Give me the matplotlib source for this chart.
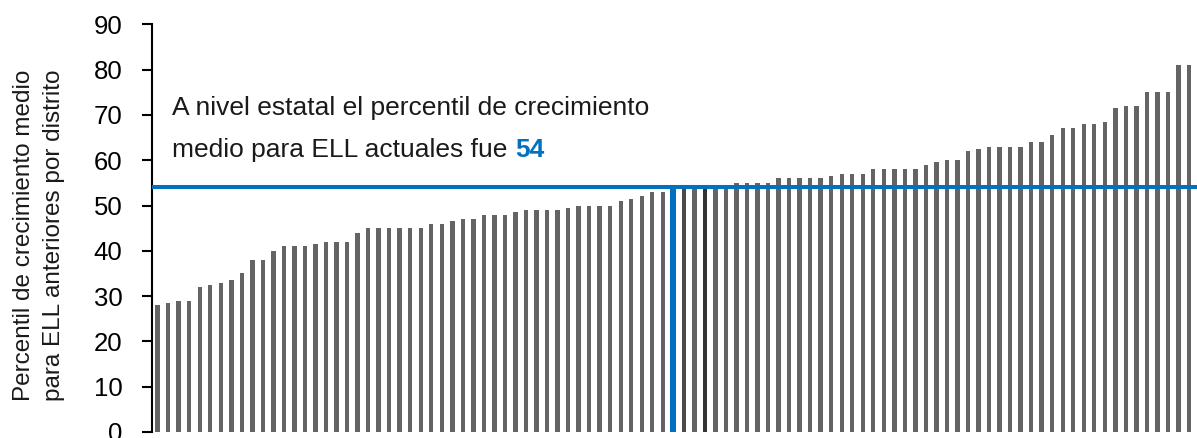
import matplotlib
matplotlib.use('Agg')
import matplotlib.pyplot as plt
import numpy as np

# Growth percentile per district, sorted ascending
district_values = [
    28, 28.5, 29, 29, 32, 32.5, 33, 33.5, 35, 38, 38, 40,
    41, 41, 41, 41.5, 42, 42, 42, 44, 45, 45, 45, 45, 45, 45,
    46, 46, 46.5, 47, 47, 48, 48, 48, 48.5, 49, 49, 49, 49, 49.5,
    50, 50, 50, 50, 51, 51.5, 52, 53, 53, 54, 54, 54, 54, 54, 54.5,
    55, 55, 55, 55, 56, 56, 56, 56, 56, 56.5, 57, 57, 57,
    58, 58, 58, 58, 58, 59, 59.5, 60, 60, 62, 62.5, 63, 63, 63, 63,
    64, 64, 65.5, 67, 67, 68, 68, 68.5, 71.5, 72, 72, 75, 75, 75, 81, 81,
]
state_value = 54
state_idx = 49
dark_idx = [50, 52]
y_ticks = [0, 10, 20, 30, 40, 50, 60, 70, 80, 90]

ylabel = 'Percentil de crecimiento medio\npara ELL anteriores por distrito'
note_line1 = 'A nivel estatal el percentil de crecimiento'
note_line2 = 'medio para ELL actuales fue '

BLUE = '#0070c0'
GRAY = '#646464'
FONT = ['Liberation Sans', 'DejaVu Sans']

fig = plt.figure(figsize=(11.97, 4.38), dpi=100)
ax = fig.add_axes([0.1267, 0.0137, 0.8733, 0.9308])

x = np.arange(len(district_values))
colors = [GRAY] * len(x)
colors[dark_idx[0]] = '#4a4a4a'
colors[dark_idx[1]] = '#333333'
widths = [0.42] * len(x)
colors[state_idx] = BLUE
widths[state_idx] = 0.55

ax.bar(x, district_values, width=widths, color=colors, zorder=2)
ax.axhline(state_value, color=BLUE, lw=2.9, zorder=3)

ax.set_xlim(-0.57, len(x) - 1 + 0.76)
ax.set_ylim(0, 90)
ax.set_yticks(y_ticks)
ax.set_xticks([])
for side in ['top', 'right', 'bottom']:
    ax.spines[side].set_visible(False)
ax.spines['left'].set_linewidth(1.5)
ax.tick_params(axis='y', direction='out', length=7, width=1.5, pad=14)
for lbl in ax.get_yticklabels():
    lbl.set_fontfamily(FONT)
    lbl.set_fontsize(18.5)

fig.text(0.0105, 0.462, ylabel, rotation=90, ha='left', va='center',
         fontsize=17.5, family=FONT, linespacing=1.5, color='#1a1a1a')

t1 = ax.text(1.36, 71.5, note_line1, ha='left', va='center',
             fontsize=19, family=FONT, color='#1a1a1a')
t2 = ax.text(1.36, 62.3, note_line2, ha='left', va='center',
             fontsize=19, family=FONT, color='#1a1a1a')

# put the bold blue number right after the second line
fig.canvas.draw()
bb = t2.get_window_extent()
x_end = ax.transData.inverted().transform((bb.x1, bb.y0))[0]
ax.text(x_end, 62.3, str(state_value), ha='left', va='center',
        fontsize=19, family=FONT, fontweight='bold', color=BLUE)

fig.savefig('out.png', dpi=100)
